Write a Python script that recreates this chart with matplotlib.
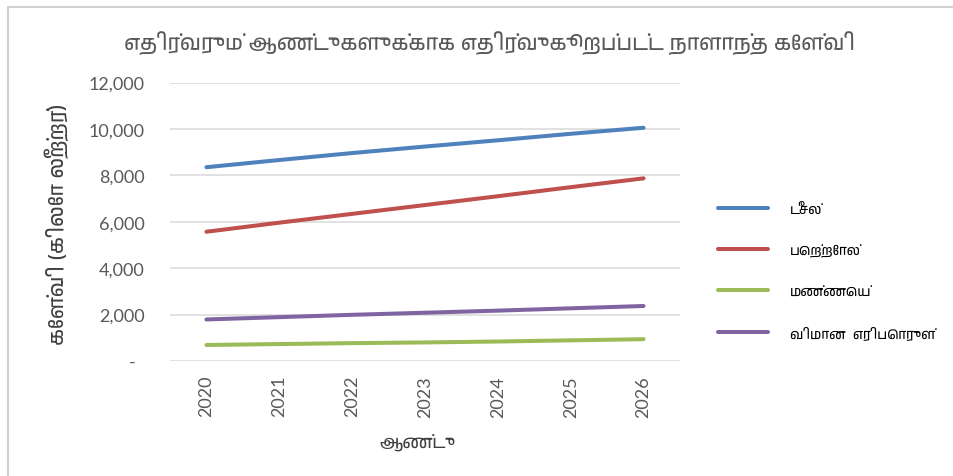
import matplotlib
matplotlib.use("Agg")
import matplotlib.pyplot as plt
from matplotlib import font_manager
from matplotlib.ft2font import FT2Font
from matplotlib.lines import Line2D
from matplotlib.ticker import FuncFormatter

# ---- data -------------------------------------------------------------
years = ["2020", "2021", "2022", "2023", "2024", "2025", "2026"]
diesel = [8350, 8660, 8960, 9240, 9510, 9790, 10050]
petrol = [5570, 5960, 6340, 6720, 7100, 7490, 7870]
kerosene = [690, 730, 770, 800, 840, 890, 940]
jet_fuel = [1790, 1890, 1990, 2080, 2170, 2270, 2370]

series_names = ["டீசல்", "பெற்றோல்", "மண்ணெய்", "விமான  எரிபொருள்"]
series_colors = ["#4F81BD", "#C0504D", "#9BBB59", "#8064A2"]

title_text = "எதிர்வரும் ஆண்டுகளுக்காக எதிர்வுகூறப்பட்ட நாளாந்த கேள்வி"
ylabel_text = "கேள்வி (கிலோ லீற்றர்)"
xlabel_text = "ஆண்டு"
y_ticks = [0, 2000, 4000, 6000, 8000, 10000, 12000]

# ---- fonts ------------------------------------------------------------
def tamil_family():
    found = []
    for f in font_manager.fontManager.ttflist:
        try:
            cmap = FT2Font(f.fname).get_charmap()
        except Exception:
            continue
        if 0x0B95 in cmap:
            found.append(f.name)
    if not found:
        return None
    found.sort(key=lambda n: (0 if "tamil" in n.lower() else 1, n))
    return found[0]

tam = tamil_family()
TAMIL = [tam, "DejaVu Sans"] if tam else ["DejaVu Sans"]
NUM = ["Lato", "DejaVu Sans"]

W, H, DPI = 954, 477, 100
fig = plt.figure(figsize=(W / DPI, H / DPI), dpi=DPI, facecolor="white")

# plot area in pixels: x 170..680, y 83.5..362 (from top)
ax = fig.add_axes([170 / W, 1 - 362 / H, 510 / W, (362 - 83.5) / H])

x = range(len(years))
for vals, col in zip([diesel, petrol, kerosene, jet_fuel], series_colors):
    ax.plot(x, vals, color=col, lw=2.9, solid_capstyle="round", zorder=3)

ax.set_xlim(-0.5, len(years) - 0.5)
ax.set_ylim(0, 12000)
ax.set_yticks(y_ticks)
ax.yaxis.set_major_formatter(FuncFormatter(lambda v, p: "-  " if v == 0 else f"{v:,.0f}"))
ax.set_xticks(list(x))
ax.set_xticklabels(years, rotation=90)
ax.grid(axis="y", color="#D9D9D9", lw=1.1, zorder=0)
ax.set_axisbelow(True)
for s in ax.spines.values():
    s.set_visible(False)
ax.tick_params(axis="y", length=0, pad=18, labelsize=13, labelcolor="#595959")
ax.tick_params(axis="x", length=0, pad=10, labelsize=13, labelcolor="#595959")
for lab in ax.get_xticklabels() + ax.get_yticklabels():
    lab.set_family(NUM)

# ---- texts ------------------------------------------------------------
title = fig.text(489 / W, 1 - 43 / H, title_text, ha="center", va="center",
                 family=TAMIL, fontsize=16, color="#595959")
ylab = fig.text(57 / W, 1 - 224 / H, ylabel_text, ha="center", va="center",
                rotation=90, family=TAMIL, fontsize=13, weight="bold", color="#404040")
xlab = fig.text(417 / W, 1 - 442 / H, xlabel_text, ha="center", va="center",
                family=TAMIL, fontsize=13, weight="bold", color="#404040")

fig.canvas.draw()
r = fig.canvas.get_renderer()

def fit(t, target, vertical=False):
    bb = t.get_window_extent(r)
    cur = bb.height if vertical else bb.width
    if cur > 0:
        t.set_fontsize(t.get_fontsize() * target / cur)

fit(title, 732)
fit(ylab, 242, vertical=True)
fit(xlab, 76)

# legend font size from the widest entry
probe = fig.text(0, 0, series_names[3], family=TAMIL, fontsize=12)
fig.canvas.draw()
pw = probe.get_window_extent(r).width
leg_fs = 12 * 145 / pw if pw > 0 else 12
probe.remove()
fs_px = leg_fs * DPI / 72

handles = [Line2D([], [], color=c, lw=2.9, solid_capstyle="round") for c in series_colors]
lab_sp = 1.5
anchor = [718 / W, 1 - 195 / H]

def make_legend():
    return fig.legend(handles, series_names, loc="upper left", bbox_to_anchor=tuple(anchor),
                      frameon=False, borderpad=0, borderaxespad=0,
                      handlelength=50 / fs_px, handletextpad=22 / fs_px,
                      labelspacing=lab_sp,
                      prop=dict(family=TAMIL, size=leg_fs))

leg = make_legend()
for _ in range(3):
    fig.canvas.draw()
    ts = leg.get_texts()
    b0 = ts[0].get_window_extent(r)
    b3 = ts[3].get_window_extent(r)
    spacing = ((b0.y0 + b0.y1) - (b3.y0 + b3.y1)) / 2 / 3
    lab_sp += (41.3 - spacing) / fs_px
    dx = 790 - b0.x0
    dy = (H - 209) - (b0.y0 + b0.y1) / 2
    anchor[0] += dx / W
    anchor[1] += dy / H
    leg.remove()
    leg = make_legend()
for t in leg.get_texts():
    t.set_color("#000000")

# chart frame (left and top edges)
fig.add_artist(Line2D([8 / W, 8 / W, 1], [0, 1 - 8 / H, 1 - 8 / H],
                      transform=fig.transFigure, color="#D0D0D0", lw=1.5))

fig.savefig("out.png", dpi=DPI, facecolor="white")
